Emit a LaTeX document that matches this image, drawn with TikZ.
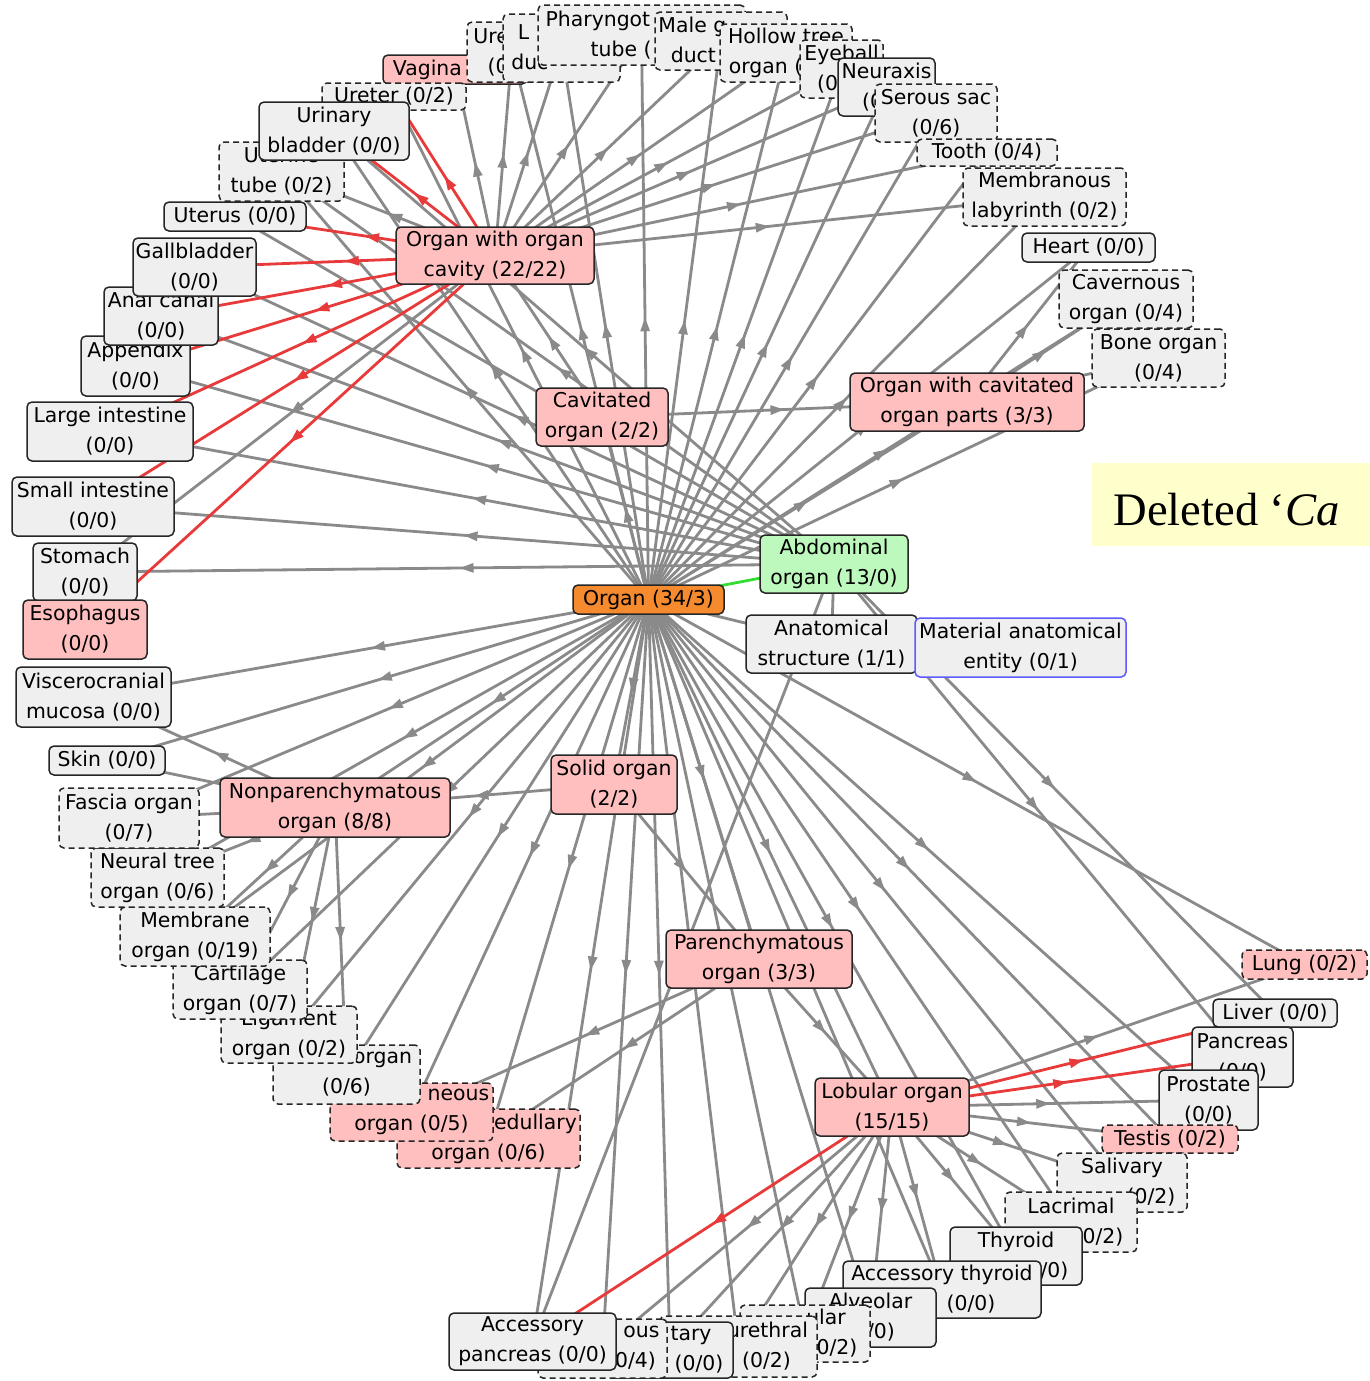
\documentclass[tikz,border=0pt]{standalone}
\usepackage{fontspec}
\setmainfont{DejaVu Sans}
\newfontfamily\timesf{Liberation Serif}
\usetikzlibrary{arrows.meta,decorations.markings}
\pgfdeclarelayer{bg}
\pgfsetlayers{bg,main}
\definecolor{nodegray}{HTML}{EFEFEF}
\definecolor{pinkf}{HTML}{FFBFBF}
\definecolor{orangef}{HTML}{F58A2E}
\definecolor{greenf}{HTML}{BDF9BD}
\definecolor{edgegray}{HTML}{8A8A8A}
\definecolor{edgered}{HTML}{E83A3A}
\definecolor{edgegreen}{HTML}{33DD33}
\definecolor{bluer}{HTML}{5B5BFF}
\definecolor{yellowf}{HTML}{FFFFCC}
\tikzset{
 nbox/.style={draw=black!85, line width=0.75pt, rounded corners=2.5pt, fill=nodegray, align=center, inner sep=0pt, font=\fontsize{10.2}{15}\selectfont},
 pk/.style={fill=pinkf},
 dsh/.style={dash pattern=on 3pt off 2pt},
 gline/.style={color=edgegray, line width=1.4pt, postaction={decorate}, decoration={markings, mark=at position 0.5 with {\arrow{Triangle[length=7pt,width=4.5pt]}}}},
 rline/.style={gline, color=edgered},
 plainline/.style={color=edgegray, line width=1.4pt},
 greenline/.style={color=edgegreen, line width=1.4pt}
}
\newcommand\bx[7]{\node[nbox,#1,minimum width={(#5-#3)*0.5pt},minimum height={(#6-#4)*0.5pt}] (#2) at ({(#3+#5)/2},{(#4+#6)/2}) {#7};}
\begin{document}
\begin{tikzpicture}[x=0.5pt,y=-0.5pt]
\useasboundingbox (0,0) rectangle (1370,1381);
\begin{pgfonlayer}{bg}
\fill[white] (0,0) rectangle (1370,1381);
\end{pgfonlayer}
% yellow caption
\fill[yellowf] (1092,463) rectangle (1400,546);
\node[anchor=base west, inner sep=0pt, font=\timesf\fontsize{23.3}{28}\selectfont] (del) at (1113,525) {Deleted ‘\textit{Ca}};
% top cluster
\bx{pk}{vagina}{383}{55}{527}{84}{Vagina (\phantom{0/0)}}
\bx{dsh}{ure}{467}{22}{557}{82}{Ure\phantom{thra}\\(0\phantom{/2)}}
\bx{dsh}{lduc}{503}{14}{620}{82}{L\phantom{acrimal}\\duc\phantom{t (0/2)}}
\bx{dsh}{pharyn}{538}{5}{745}{65}{Pharyngot\phantom{ympanic}\\tube (\phantom{0/2)}}
\bx{dsh}{male}{655}{12}{787}{70}{Male g\phantom{enital}\\duct\phantom{ (0/2)}}
\bx{dsh}{hollow}{720}{24}{852}{82}{Hollow tree\\organ (\phantom{0/2)}}
\bx{dsh}{eyeball}{800}{40}{883}{98}{Eyeball\\(0\phantom{/2)}}
\bx{}{neuraxis}{838}{58}{935}{116}{Neuraxis\\(0\phantom{/0)}}
\bx{dsh}{serous}{875}{84}{997}{142}{Serous sac\\(0/6)}
\bx{dsh}{tooth}{917}{139}{1057}{166}{Tooth (0/4)}
\bx{dsh}{memb}{963}{168}{1126}{226}{Membranous\\labyrinth (0/2)}
\bx{}{heart}{1022}{233}{1155}{262}{Heart (0/0)}
\bx{dsh}{cavern}{1059}{270}{1193}{328}{Cavernous\\organ (0/4)}
\bx{dsh}{bone}{1092}{329}{1225}{387}{Bone organ\\(0/4)}
% upper left
\bx{dsh}{ureter}{322}{83}{466}{110}{Ureter (0/2)}
\bx{dsh}{utube}{219}{142}{344}{201}{Uterine\\tube (0/2)}
\bx{}{urinary}{259}{102}{409}{160}{Urinary\\bladder (0/0)}
\bx{}{uterus}{164}{202}{306}{231}{Uterus (0/0)}
\bx{}{append}{81}{336}{190}{396}{Appendix\\(0/0)}
\bx{}{anal}{104}{287}{218}{345}{Anal canal\\(0/0)}
\bx{}{gall}{133}{238}{256}{296}{Gallbladder\\(0/0)}
\bx{}{large}{27}{402}{193}{461}{Large intestine\\(0/0)}
\bx{}{small}{12}{477}{174}{536}{Small intestine\\(0/0)}
\bx{}{stomach}{33}{543}{137}{601}{Stomach\\(0/0)}
\bx{pk}{esoph}{23}{600}{147}{659}{Esophagus\\(0/0)}
% lower left
\bx{pk,dsh}{edull}{397}{1109}{580}{1168}{\hspace*{47pt}edullary\\organ (0/6)}
\bx{pk,dsh}{neous}{330}{1083}{493}{1141}{\hspace*{47pt}neous\\organ (0/5)}
\bx{dsh}{leight}{273}{1045}{420}{1104}{\hspace*{36pt}organ\\(0/6)}
\bx{dsh}{ligam}{221}{1006}{357}{1063}{Ligament\\organ (0/2)}
\bx{dsh}{cartil}{173}{960}{307}{1019}{Cartilage\\organ (0/7)}
\bx{dsh}{membrane}{120}{907}{270}{966}{Membrane\\organ (0/19)}
\bx{dsh}{neural}{91}{848}{224}{907}{Neural tree\\organ (0/6)}
\bx{dsh}{fascia}{59}{788}{199}{848}{Fascia organ\\(0/7)}
\bx{}{skin}{49}{746}{165}{775}{Skin (0/0)}
\bx{}{visc}{16}{667}{171}{727}{Viscerocranial\\mucosa (0/0)}
% lower right
\bx{pk,dsh}{lung}{1242}{950}{1367}{979}{Lung (0/2)}
\bx{}{liver}{1213}{999}{1337}{1027}{Liver (0/0)}
\bx{}{pancreas}{1192}{1027}{1293}{1087}{Pancreas\\(0/0)}
\bx{}{prostate}{1159}{1070}{1258}{1130}{Prostate\\(0/0)}
\bx{pk,dsh}{testis}{1102}{1125}{1238}{1153}{Testis (0/2)}
\bx{dsh}{salivary}{1057}{1153}{1187}{1212}{Salivary\\\hspace*{29pt}(0/2)}
\bx{dsh}{lacrimal}{1005}{1192}{1137}{1252}{Lacrimal\\\hspace*{28pt}(0/2)}
\bx{}{thyroid}{950}{1227}{1082}{1285}{Thyroid\\\hspace*{28pt}(0/0)}
\bx{}{accthy}{843}{1261}{1041}{1318}{Accessory thyroid\\\hspace*{29pt}(0/0)}
\bx{}{alveolar}{805}{1288}{936}{1347}{Alveolar\\(0/0)}
\bx{dsh}{ular}{740}{1305}{870}{1362}{\hspace*{21pt}ular\\\hspace*{28pt}(0/2)}
\bx{dsh}{ureth}{660}{1316}{817}{1377}{\hspace*{29pt}urethral\\\hspace*{28pt}(0/2)}
\bx{}{tary}{607}{1322}{733}{1378}{\hspace*{21pt}tary\\\hspace*{29pt}(0/0)}
\bx{dsh}{ous}{538}{1319}{667}{1378}{\hspace*{39pt}ous\\\hspace*{29pt}(0/4)}
\bx{}{accp}{449}{1313}{616}{1370}{Accessory\\pancreas (0/0)}
% hubs
\bx{pk}{owoc}{396}{227}{594}{284}{Organ with organ\\cavity (22/22)}
\bx{pk}{cav}{536}{388}{668}{446}{Cavitated\\organ (2/2)}
\bx{pk}{owcop}{850}{373}{1084}{431}{Organ with cavitated\\organ parts (3/3)}
\bx{fill=orangef}{organ}{573}{585}{724}{614}{Organ (34/3)}
\bx{fill=greenf}{abd}{760}{535}{908}{593}{Abdominal\\organ (13/0)}
\bx{}{anat}{746}{615}{917}{673}{Anatomical\\structure (1/1)}
\bx{draw=bluer}{mat}{915}{618}{1126}{677}{Material anatomical\\entity (0/1)}
\bx{pk}{solid}{551}{755}{677}{814}{Solid organ\\(2/2)}
\bx{pk}{nonpar}{220}{778}{450}{837}{Nonparenchymatous\\organ (8/8)}
\bx{pk}{paren}{666}{930}{852}{988}{Parenchymatous\\organ (3/3)}
\bx{pk}{lob}{815}{1078}{969}{1136}{Lobular organ\\(15/15)}
% edges
\begin{pgfonlayer}{bg}
\foreach \t in {ure,lduc,pharyn,male,hollow,eyeball,neuraxis,serous,tooth,memb,heart,cavern,bone,ureter,urinary,utube,cav,owcop,visc,skin,fascia,neural,membrane,cartil,ligam,leight,neous,edull,accp,ous,tary,ureth,ular,alveolar,accthy,thyroid,lacrimal,salivary,testis,prostate,lung,solid,nonpar,paren,lob}
  \draw[gline] (organ.center) -- (\t.center);
\foreach \t in {vagina,stomach,ure,lduc,pharyn,male,hollow,eyeball,neuraxis,serous,tooth,memb,utube}
  \draw[gline] (owoc.center) -- (\t.center);
\foreach \t in {gall,anal,append,large,small,stomach,liver,pancreas,accp,urinary,utube,uterus}
  \draw[gline] (abd.center) -- (\t.center);
\foreach \t in {visc,skin,fascia,neural,membrane,cartil,ligam,leight}
  \draw[gline] (nonpar.center) -- (\t.center);
\foreach \t in {lung,prostate,testis,salivary,lacrimal,thyroid,accthy,alveolar,ular,ureth,tary,ous}
  \draw[gline] (lob.center) -- (\t.center);
\foreach \t in {nonpar,paren}
  \draw[gline] (solid.center) -- (\t.center);
\foreach \t in {lob,neous,edull}
  \draw[gline] (paren.center) -- (\t.center);
\foreach \t in {owoc,owcop}
  \draw[gline] (cav.center) -- (\t.center);
\foreach \t in {heart,cavern,bone}
  \draw[gline] (owcop.center) -- (\t.center);
\draw[plainline] (organ.center) -- (anat.center);
\draw[plainline] (abd.center) -- (anat.center);
\draw[greenline] (organ.center) -- (abd.center);
\foreach \t in {ureter,urinary,uterus,gall,anal,append,large,small,esoph}
  \draw[rline] (owoc.center) -- (\t.center);
\foreach \t in {pancreas,liver,accp}
  \draw[rline] (lob.center) -- (\t.center);
\end{pgfonlayer}
\end{tikzpicture}
\end{document}
